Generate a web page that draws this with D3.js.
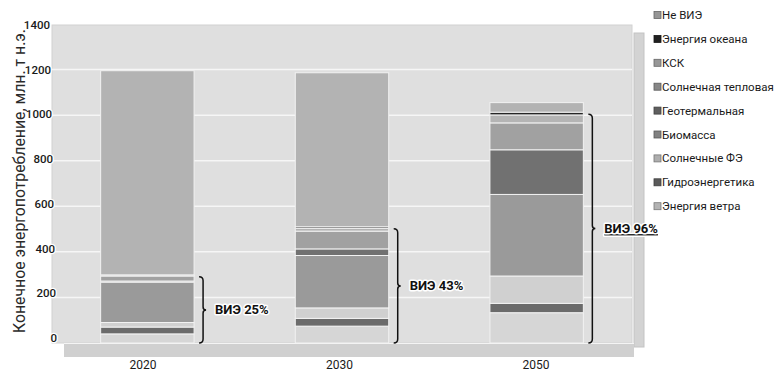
<!DOCTYPE html>
<html lang="ru">
<head>
<meta charset="utf-8">
<script src="https://cdn.jsdelivr.net/npm/d3@7"></script>
<style>
  html, body { margin: 0; padding: 0; background: #fff; }
  svg { display: block; font-family: Roboto, "Liberation Sans", sans-serif; }
</style>
</head>
<body>
<svg id="chart" width="779" height="373"></svg>
<script>
// Final energy consumption by source, Mtoe
const years = ["2020", "2030", "2050"];
const seriesNames = [
  "Энергия ветра", "Гидроэнергетика", "Солнечные ФЭ", "Биомасса",
  "Геотермальная", "Солнечная тепловая", "КСК", "Энергия океана", "Не ВИЭ"
];
const wind         = [40, 74, 133];
const hydro        = [30, 34, 41];
const solarPV      = [20, 46, 120];
const biomass      = [177, 230, 358];
const geothermal   = [5, 29, 196];
const solarThermal = [22, 78, 118];
const csp          = [3, 12, 35];
const ocean        = [2, 7, 12];
const nonRenewable = [896, 676, 42];
const yTicks = [0, 200, 400, 600, 800, 1000, 1200, 1400];
const yTitle = "Конечное энергопотребление, млн. т н.э.";
const rePrefix = "ВИЭ";

const seriesValues = [wind, hydro, solarPV, biomass, geothermal, solarThermal, csp, ocean, nonRenewable];
const colors = ["#d6d6d6", "#6b6b6b", "#d0d0d0", "#9a9a9a", "#717171", "#a1a1a1", "#b4b4b4", "#262626", "#b3b3b3"];

const rows = years.map((y, i) => {
  const r = { year: y };
  seriesNames.forEach((s, k) => r[s] = seriesValues[k][i]);
  return r;
});
const stacked = d3.stack().keys(seriesNames)(rows);

const svg = d3.select("#chart");

// plot geometry
const wall = { x0: 52, x1: 632, y0: 25, y1: 343 };
const x = d3.scaleBand().domain(years).range([wall.x0, wall.x1]).paddingInner(0.52).paddingOuter(0.25);
const y = d3.scaleLinear().domain([0, 1400]).range([wall.y1, 24]);
const yLabel = d3.scaleLinear().domain([0, 1400]).range([338, 25]);
const yLabelX = d3.scaleLinear().domain([0, 1400]).range([57, 50]);
const xLabel = d3.scalePoint().domain(years).range([143, 536]);

// back wall
svg.append("rect")
  .attr("x", wall.x0).attr("y", wall.y0)
  .attr("width", wall.x1 - wall.x0).attr("height", wall.y1 - wall.y0)
  .attr("fill", "#dfdfdf").attr("stroke", "#d2d2d2").attr("stroke-width", 1);

// grid lines
svg.append("g").selectAll("line").data(yTicks.slice(1, -1)).join("line")
  .attr("x1", wall.x0).attr("x2", wall.x1)
  .attr("y1", d => y(d)).attr("y2", d => y(d))
  .attr("stroke", "#f6f6f6").attr("stroke-width", 1.5);

// side panel and floor
svg.append("rect").attr("x", 634).attr("y", 33).attr("width", 10).attr("height", 314)
  .attr("fill", "#d3d3d3").attr("stroke", "#c3c3c3").attr("stroke-width", 1);
svg.append("rect").attr("x", 64).attr("y", wall.y1).attr("width", 570).attr("height", 14)
  .attr("fill", "#d0d0d0");
svg.append("line").attr("x1", 64).attr("x2", 634).attr("y1", wall.y1 + 0.5).attr("y2", wall.y1 + 0.5)
  .attr("stroke", "#f4f4f4").attr("stroke-width", 1);

// stacked bars
svg.append("g").selectAll("g").data(stacked).join("g")
  .attr("fill", (d, i) => colors[i])
  .selectAll("rect").data(d => d).join("rect")
  .attr("x", d => x(d.data.year))
  .attr("width", x.bandwidth())
  .attr("y", d => y(d[1]))
  .attr("height", d => y(d[0]) - y(d[1]))
  .attr("stroke", "#f2f2f2").attr("stroke-width", 1);

// renewable share brackets
const reTotals = years.map((yr, i) => d3.sum(seriesValues.slice(0, -1), s => s[i]));
const totals = years.map((yr, i) => d3.sum(seriesValues, s => s[i]));
const brackets = svg.append("g");
years.forEach((yr, i) => {
  const bx = x(yr) + x.bandwidth() + 9;
  const yTop = y(reTotals[i]) + 2;
  const yBot = y(0);
  const yMid = (yTop + yBot) / 2;
  const p = d3.path();
  p.moveTo(bx - 4, yTop);
  p.quadraticCurveTo(bx, yTop, bx, yTop + 4);
  p.lineTo(bx, yMid - 3);
  p.quadraticCurveTo(bx, yMid, bx + 3, yMid);
  p.quadraticCurveTo(bx, yMid, bx, yMid + 3);
  p.lineTo(bx, yBot - 4);
  p.quadraticCurveTo(bx, yBot, bx - 4, yBot);
  brackets.append("path").attr("d", p.toString())
    .attr("fill", "none").attr("stroke", "#111").attr("stroke-width", 1.5);
  const share = Math.round(reTotals[i] / totals[i] * 100);
  brackets.append("text")
    .attr("x", bx + 12).attr("y", yMid)
    .attr("dy", "0.35em")
    .attr("font-size", 13).attr("font-weight", 700)
    .attr("fill", "#111")
    .attr("stroke", "#fff").attr("stroke-width", 3).attr("paint-order", "stroke")
    .attr("stroke-linejoin", "round")
    .style("text-decoration", i === years.length - 1 ? "underline" : "none")
    .text(`${rePrefix} ${share}%`);
});

// y tick labels
svg.append("g").selectAll("text").data(yTicks).join("text")
  .attr("x", d => yLabelX(d)).attr("y", d => yLabel(d))
  .attr("dy", "0.35em").attr("text-anchor", "end")
  .attr("font-size", 11.5).attr("font-weight", 500).attr("fill", "#1a1a1a")
  .attr("stroke", "#fff").attr("stroke-width", 2.5).attr("paint-order", "stroke")
  .text(d => d);

// y title
svg.append("text")
  .attr("transform", `translate(25,181) rotate(-90)`)
  .attr("text-anchor", "middle")
  .attr("font-size", 15.8).attr("fill", "#2a2a2a")
  .text(yTitle);

// x labels
svg.append("g").selectAll("text").data(years).join("text")
  .attr("x", d => xLabel(d)).attr("y", 364.5)
  .attr("dy", "0.35em").attr("text-anchor", "middle")
  .attr("font-size", 12).attr("fill", "#1a1a1a")
  .text(d => d);

// legend, top entry is the top of the stack
const legendItems = seriesNames.map((s, i) => ({ name: s, color: colors[i] })).reverse();
const legend = svg.append("g").selectAll("g").data(legendItems).join("g")
  .attr("transform", (d, i) => `translate(654,${15 + i * 23.9})`);
legend.append("rect")
  .attr("x", 0).attr("y", -3.5).attr("width", 7).attr("height", 7)
  .attr("fill", d => d3.color(d.color).darker(0.5))
  .attr("stroke", d => d3.color(d.color).darker(1.6)).attr("stroke-width", 0.8);
legend.append("text")
  .attr("x", 8).attr("y", 0).attr("dy", "0.35em")
  .attr("font-size", 11.5).attr("fill", "#1a1a1a")
  .text(d => d.name);
</script>
</body>
</html>
